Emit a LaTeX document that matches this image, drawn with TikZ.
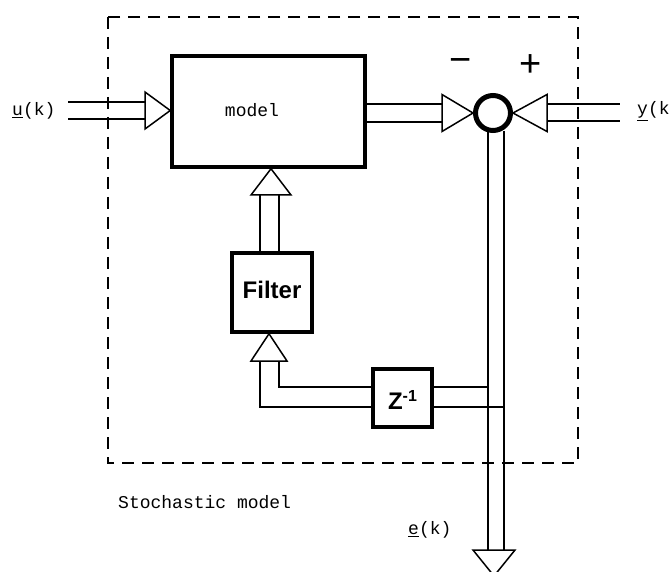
\documentclass[tikz,border=0pt]{standalone}
\usepackage{fontspec}
\setmainfont{Liberation Serif}
\setmonofont{Liberation Mono}
\setsansfont{Liberation Sans}
\usetikzlibrary{calc}
\begin{document}
\begin{tikzpicture}[x=1pt,y=-1pt,
  thin line/.style={line width=1.5pt},
  blockbox/.style={draw,line width=3.5pt,inner sep=0pt,rectangle},
  opentri/.style={draw,line width=1.5pt,fill=white,line join=miter},
  tt/.style={font=\ttfamily\fontsize{18}{18}\selectfont,inner sep=0pt},
  sign/.style={font=\sffamily\fontsize{38}{38}\selectfont,inner sep=0pt}]
\clip (0,0) rectangle (672,572);
\fill[white] (0,0) rectangle (672,572);

% dashed frame
\draw[line width=1.5pt,dash pattern=on 12pt off 8pt] (108,17) rectangle (578,463);

% blocks
\node[blockbox,minimum width=193pt,minimum height=111pt] (model) at (268.5,111.5) {};
\node[tt] (modeltxt) at (252,110) {model};
\node[blockbox,minimum width=80pt,minimum height=79pt] (filter) at (272,292.5) {};
\node[font=\sffamily\bfseries\fontsize{24}{24}\selectfont,inner sep=0pt] (filtertxt) at (272,290) {Filter};
\node[blockbox,minimum width=59pt,minimum height=58pt] (zbox) at (402.5,398) {};
\node[font=\sffamily\bfseries\fontsize{24}{24}\selectfont,inner sep=0pt] (ztxt) at (402.5,400) {Z\raisebox{0.7ex}{\fontsize{16}{16}\selectfont -1}};
\node[circle,draw,line width=5pt,minimum size=35pt,inner sep=0pt] (sum) at (493,113) {};

% arrow-tip coordinates
\coordinate (t1) at (145,110.5);
\coordinate (t2) at (442,113);
\coordinate (t3) at (547,113);
\coordinate (t4) at (271,195);
\coordinate (t5) at (269,361);
\coordinate (t6) at (494,550);

% input u(k)
\draw[thin line] (68,102) -- (t1 |- 0,102);
\draw[thin line] (68,119) -- (t1 |- 0,119);
\draw[opentri] ($(t1)+(0,-18.5)$) -- ($(t1)+(0,18.5)$) -- (model.west |- t1) -- cycle;

% model output to sum
\draw[thin line] (model.east |- 0,104) -- (t2 |- 0,104);
\draw[thin line] (model.east |- 0,122) -- (t2 |- 0,122);
\draw[opentri] ($(t2)+(0,-18.5)$) -- ($(t2)+(0,18.5)$) -- (sum.west) -- cycle;

% y(k) to sum
\draw[thin line] (t3 |- 0,104) -- (620,104);
\draw[thin line] (t3 |- 0,121) -- (620,121);
\draw[opentri] ($(t3)+(0,-18.5)$) -- ($(t3)+(0,18.5)$) -- (sum.east) -- cycle;

% e(k) output down
\draw[thin line] (488,131) -- (488,550);
\draw[thin line] (504,131) -- (504,550);
\draw[opentri] ($(t6)+(-21,0)$) -- ($(t6)+(21,0)$) -- ($(t6)+(0,26)$) -- cycle;

% filter to model
\draw[thin line] (260,195) -- (filter.north -| 260,0);
\draw[thin line] (279,195) -- (filter.north -| 279,0);
\draw[opentri] ($(t4)+(-20,0)$) -- ($(t4)+(20,0)$) -- (model.south -| t4) -- cycle;

% feedback: z^-1 to filter
\draw[thin line] (279,361) -- (279,387) -- (zbox.west |- 0,387);
\draw[thin line] (260,361) -- (260,407) -- (zbox.west |- 0,407);
\draw[opentri] ($(t5)+(-18,0)$) -- ($(t5)+(18,0)$) -- (filter.south -| t5) -- cycle;

% e(k) branch to z^-1
\draw[thin line] (zbox.east |- 0,387) -- (488,387);
\draw[thin line] (zbox.east |- 0,407) -- (504,407);

% labels
\node[tt,anchor=west] (ulab) at (12,111) {\underline{u}(k)};
\node[tt,anchor=west] (ylab) at (637,111) {\underline{y}(k};
\node[tt,anchor=west] (elab) at (408,530) {\underline{e}(k)};
\node[tt,anchor=west] (stoch) at (118,502) {Stochastic model};
\node[sign] (minus) at (461,66) {−};
\node[sign] (plus) at (531,66) {+};
\end{tikzpicture}
\end{document}
